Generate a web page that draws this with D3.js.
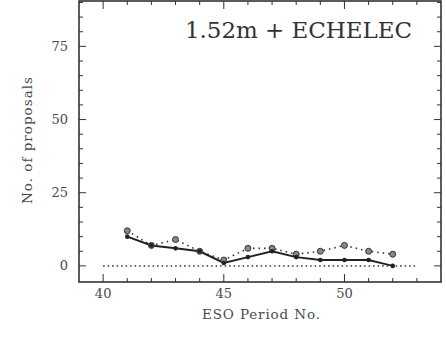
<!DOCTYPE html>
<html><head><meta charset="utf-8">
<script src="https://cdn.jsdelivr.net/npm/d3@7"></script>
<style>body{margin:0;background:#fff}svg{display:block}</style>
</head><body><svg id="c" width="446" height="339"></svg>
<script>
const periods = [41,42,43,44,45,46,47,48,49,50,51,52];
const accepted = [10,7,6,5,1,3,5,3,2,2,2,0];
const submitted = [12,7,9,5,2,6,6,4,5,7,5,4];
const xTicks = [40,45,50];
const yTicks = [0,25,50,75];
const title = "1.52m + ECHELEC";

const svg = d3.select("#c");
const L=79, R=441, T=1, B=282;
const x = d3.scaleLinear().domain([39,54]).range([L,R]);
const y = d3.scaleLinear().domain([-5.5,90.5]).range([B,T]);
const ink = "#333", txt="#4a4a4a";
const font = "'DejaVu Serif', 'Liberation Serif', serif";

svg.append("rect").attr("x",L).attr("y",T).attr("width",R-L).attr("height",B-T)
  .attr("fill","none").attr("stroke",ink).attr("stroke-width",1.6);

const yMinor = d3.range(0,91,5);
yMinor.forEach(v=>{
  const len = v%25===0?7:4;
  svg.append("line").attr("x1",L).attr("x2",L+len).attr("y1",y(v)).attr("y2",y(v)).attr("stroke",ink);
  svg.append("line").attr("x1",R).attr("x2",R-len).attr("y1",y(v)).attr("y2",y(v)).attr("stroke",ink);
});
const xMinor = d3.range(40,54,1);
xMinor.forEach(v=>{
  const len = v%5===0?8:4;
  svg.append("line").attr("x1",x(v)).attr("x2",x(v)).attr("y1",B).attr("y2",B-len).attr("stroke",ink);
  svg.append("line").attr("x1",x(v)).attr("x2",x(v)).attr("y1",T).attr("y2",T+len).attr("stroke",ink);
});

svg.selectAll("text.yt").data(yTicks).join("text").attr("class","yt")
  .attr("x",L-11).attr("y",d=>y(d)).attr("dy","0.35em").attr("text-anchor","end")
  .attr("font-family",font).attr("font-size",13).attr("fill",txt).text(d=>d);
svg.selectAll("text.xt").data(xTicks).join("text").attr("class","xt")
  .attr("x",d=>x(d)).attr("y",B+16).attr("text-anchor","middle")
  .attr("font-family",font).attr("font-size",13).attr("fill",txt).text(d=>d);

svg.append("text").attr("x",202).attr("y",319)
  .attr("textLength",118).attr("lengthAdjust","spacing")
  .attr("font-family",font).attr("font-size",13.5).attr("fill",txt).text("ESO Period No.");
svg.append("text").attr("transform","translate(32,204) rotate(-90)")
  .attr("textLength",127).attr("lengthAdjust","spacing")
  .attr("font-family",font).attr("font-size",13.5).attr("fill",txt).text("No. of proposals");

svg.append("text").attr("x",185).attr("y",38)
  .attr("textLength",227).attr("lengthAdjust","spacing")
  .attr("font-family",font).attr("font-size",23).attr("fill","#333").text(title);

svg.append("line").attr("x1",x(40)).attr("x2",x(53)).attr("y1",y(0)).attr("y2",y(0))
  .attr("stroke",ink).attr("stroke-width",1.5).attr("stroke-dasharray","1.5,3");

const sub = periods.map((p,i)=>[p,submitted[i]]);
const acc = periods.map((p,i)=>[p,accepted[i]]);
const line = d3.line().x(d=>x(d[0])).y(d=>y(d[1]));
svg.append("path").attr("d",line(sub)).attr("fill","none").attr("stroke",ink)
  .attr("stroke-width",1.6).attr("stroke-dasharray","1.5,4");
svg.append("path").attr("d",line(acc)).attr("fill","none").attr("stroke","#222").attr("stroke-width",2);
svg.selectAll("circle.s").data(sub).join("circle").attr("class","s")
  .attr("cx",d=>x(d[0])).attr("cy",d=>y(d[1])).attr("r",3)
  .attr("fill","#888").attr("stroke","#333").attr("stroke-width",1);
svg.selectAll("circle.a").data(acc).join("circle").attr("class","a")
  .attr("cx",d=>x(d[0])).attr("cy",d=>y(d[1])).attr("r",2.3).attr("fill","#222");
</script></body></html>
